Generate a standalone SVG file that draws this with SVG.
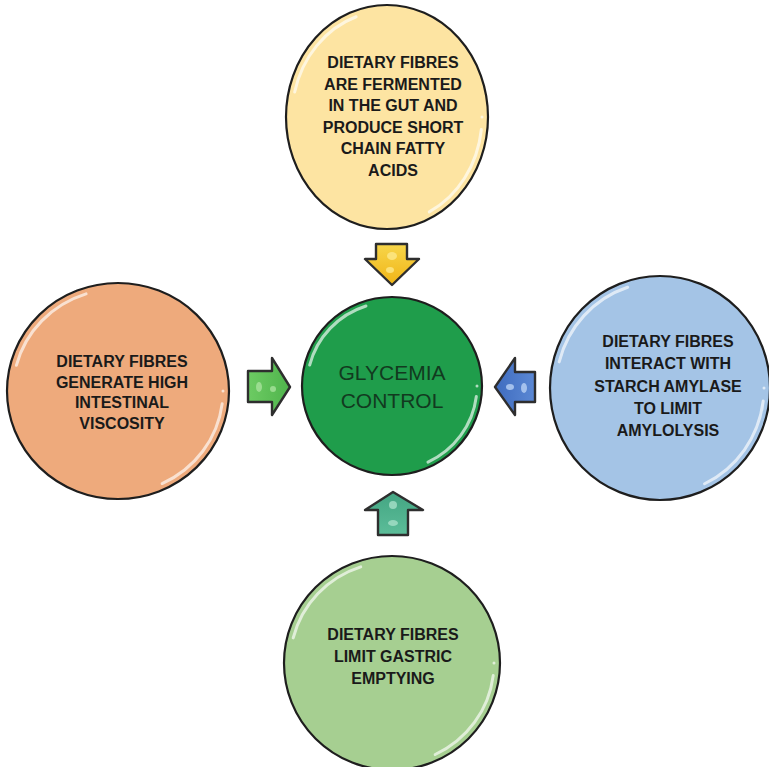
<svg xmlns="http://www.w3.org/2000/svg" width="769" height="767" viewBox="0 0 769 767">
<style>
.rim{stroke:#1e1e1e;stroke-width:2.2}
.gloss{fill:none;stroke:#ffffff;stroke-width:3;stroke-opacity:0.65;stroke-linecap:round;stroke-dasharray:0 2 16 36 16 30}
.lbl{font-family:"Liberation Sans",Arial,sans-serif;font-weight:bold;font-size:16px;fill:#1a1a1a;text-anchor:middle}
.ctr{font-family:"Liberation Sans",Arial,sans-serif;font-size:21px;fill:#123a1f;text-anchor:middle}
.arw{stroke:#2e2e2e;stroke-width:2.4;stroke-linejoin:round}
</style>
<defs>
<linearGradient id="gy" x1="0" y1="0" x2="0" y2="1"><stop offset="0" stop-color="#f7d64a"/><stop offset="1" stop-color="#f0b416"/></linearGradient>
<linearGradient id="gg" x1="0" y1="0" x2="1" y2="0"><stop offset="0" stop-color="#6dcb63"/><stop offset="1" stop-color="#4fb44c"/></linearGradient>
<linearGradient id="gb" x1="1" y1="0" x2="0" y2="0"><stop offset="0" stop-color="#5b88d4"/><stop offset="1" stop-color="#3f6cbf"/></linearGradient>
<linearGradient id="gt" x1="0" y1="1" x2="0" y2="0"><stop offset="0" stop-color="#5cbd99"/><stop offset="1" stop-color="#43a582"/></linearGradient>
</defs>
<rect width="769" height="767" fill="#ffffff"/>
<g id="connectors">
<polygon class="arw" fill="url(#gy)" points="376,244 407,244 407,259 419,259 392,285 365,259 376,259"/>
<ellipse cx="392" cy="256" rx="5" ry="4" fill="#fde98a" opacity="0.8"/>
<ellipse cx="390" cy="270" rx="4" ry="3" fill="#fde98a" opacity="0.8"/>
<polygon class="arw" fill="url(#gg)" points="248,371 272,371 272,358 290,387 272,415 272,402 248,402"/>
<ellipse cx="259" cy="387" rx="3" ry="5" fill="#a8e29c" opacity="0.8"/>
<ellipse cx="273" cy="389" rx="3" ry="3" fill="#a8e29c" opacity="0.8"/>
<polygon class="arw" fill="url(#gb)" points="535,372 515,372 515,358 495,387 515,415 515,402 535,402"/>
<ellipse cx="510" cy="387" rx="4" ry="3" fill="#b3cdf2" opacity="0.85"/>
<ellipse cx="524" cy="388" rx="3" ry="5" fill="#b3cdf2" opacity="0.85"/>
<polygon class="arw" fill="url(#gt)" points="393,492 423,510 408,510 408,535 378,535 378,510 365,510"/>
<ellipse cx="393" cy="505" rx="4" ry="4" fill="#a6e0c8" opacity="0.8"/>
<ellipse cx="393" cy="523" rx="5" ry="3" fill="#a6e0c8" opacity="0.8"/>
</g>
<g id="node-top">
<ellipse class="rim" cx="387" cy="117" rx="101" ry="112" fill="#fde4a2"/>
<ellipse class="gloss" cx="387" cy="117" rx="95" ry="106" pathLength="100"/>
<text class="lbl" x="393" y="68">DIETARY FIBRES</text>
<text class="lbl" x="393" y="90">ARE FERMENTED</text>
<text class="lbl" x="393" y="111">IN THE GUT AND</text>
<text class="lbl" x="393" y="133">PRODUCE SHORT</text>
<text class="lbl" x="393" y="154">CHAIN FATTY</text>
<text class="lbl" x="393" y="176">ACIDS</text>
</g>
<g id="node-left">
<ellipse class="rim" cx="118" cy="391" rx="111" ry="108" fill="#eeaa7c"/>
<ellipse class="gloss" cx="118" cy="391" rx="105" ry="102" pathLength="100"/>
<text class="lbl" x="122" y="367">DIETARY FIBRES</text>
<text class="lbl" x="122" y="388">GENERATE HIGH</text>
<text class="lbl" x="122" y="408">INTESTINAL</text>
<text class="lbl" x="122" y="429">VISCOSITY</text>
</g>
<g id="node-right">
<ellipse class="rim" cx="660" cy="388" rx="110" ry="112" fill="#a4c4e6"/>
<ellipse class="gloss" cx="660" cy="388" rx="104" ry="106" pathLength="100"/>
<text class="lbl" x="668" y="347">DIETARY FIBRES</text>
<text class="lbl" x="668" y="369">INTERACT WITH</text>
<text class="lbl" x="668" y="392">STARCH AMYLASE</text>
<text class="lbl" x="668" y="414">TO LIMIT</text>
<text class="lbl" x="668" y="436">AMYLOLYSIS</text>
</g>
<g id="node-bottom">
<ellipse class="rim" cx="392" cy="663" rx="108" ry="107" fill="#a6cf91"/>
<ellipse class="gloss" cx="392" cy="663" rx="102" ry="101" pathLength="100"/>
<text class="lbl" x="393" y="640">DIETARY FIBRES</text>
<text class="lbl" x="393" y="662">LIMIT GASTRIC</text>
<text class="lbl" x="393" y="684">EMPTYING</text>
</g>
<g id="node-center">
<ellipse class="rim" cx="392" cy="386" rx="90" ry="89" fill="#1f9d4b"/>
<ellipse class="gloss" cx="392" cy="386" rx="85" ry="84" pathLength="100" stroke-opacity="0.45"/>
<text class="ctr" x="392" y="380">GLYCEMIA</text>
<text class="ctr" x="392" y="408">CONTROL</text>
</g>
</svg>
